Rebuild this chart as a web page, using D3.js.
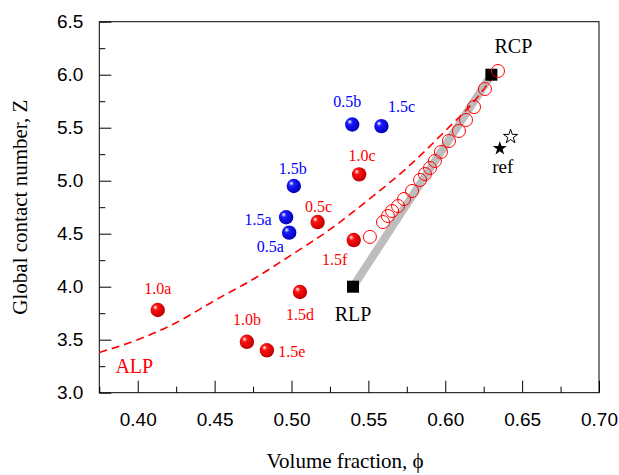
<!DOCTYPE html>
<html>
<head>
<meta charset="utf-8" />
<title>Global contact number vs volume fraction</title>
<style>
    body { margin: 0; background: #fff; }
    .tick text { font-family: "Liberation Sans", Arial, sans-serif; font-size: 19px; fill: #000; }
    .serif { font-family: "Liberation Serif", "Times New Roman", serif; }
</style>
</head>
<body>
<div id="container"></div>
<script src="https://cdn.jsdelivr.net/npm/d3@7"></script>
<script>
    // tick values
    const xMajor = [0.40, 0.45, 0.50, 0.55, 0.60, 0.65, 0.70]
    const xMinor = [0.375, 0.425, 0.475, 0.525, 0.575, 0.625, 0.675]
    const yMajor = [3.0, 3.5, 4.0, 4.5, 5.0, 5.5, 6.0, 6.5]
    const yMinor = [3.25, 3.75, 4.25, 4.75, 5.25, 5.75, 6.25]

    // filled spheres (simulations)
    const simNames = ['1.0a', '1.0b', '1.5e', '1.5d', '0.5c', '1.0c', '1.5f', '0.5a', '1.5a', '1.5b', '0.5b', '1.5c']
    const simPhi = [0.413, 0.471, 0.484, 0.5055, 0.517, 0.544, 0.5405, 0.4985, 0.4965, 0.5015, 0.5395, 0.5585]
    const simZ = [3.78, 3.48, 3.40, 3.95, 4.61, 5.06, 4.44, 4.51, 4.655, 4.95, 5.53, 5.515]
    const simGroup = ['red', 'red', 'red', 'red', 'red', 'red', 'red', 'blue', 'blue', 'blue', 'blue', 'blue']

    // open circles
    const openPhi = [0.551, 0.5595, 0.5627, 0.5654, 0.5693, 0.5732, 0.5784, 0.5836, 0.5868, 0.5901, 0.5933, 0.5972, 0.6024, 0.6089, 0.6135, 0.6187, 0.6258, 0.6343]
    const openZ = [4.47, 4.61, 4.667, 4.714, 4.761, 4.827, 4.903, 5.007, 5.063, 5.12, 5.186, 5.271, 5.375, 5.469, 5.573, 5.695, 5.865, 6.035]

    // ALP curve (dashed)
    const alpPhi = [0.375, 0.40, 0.425, 0.45, 0.475, 0.50, 0.525, 0.55, 0.575, 0.60, 0.62, 0.632]
    const alpZ = [3.38, 3.50, 3.66, 3.87, 4.07, 4.30, 4.54, 4.82, 5.12, 5.47, 5.77, 6.0]

    // reference packings
    const packNames = ['RLP', 'RCP']
    const packPhi = [0.54, 0.63]
    const packZ = [4.0, 6.0]

    // reference stars
    const refPhi = [0.6355, 0.6425]
    const refZ = [5.305, 5.415]

    // label offsets in px, [dx, dy of baseline]
    const simLabelOff = {
        '1.0a': [0, -16], '1.0b': [0, -17], '1.5e': [25, 7], '1.5d': [0, 28],
        '0.5c': [1, -10], '1.0c': [3, -13], '1.5f': [-19, 25], '0.5a': [-19, 19],
        '1.5a': [-28, 8], '1.5b': [-1, -12], '0.5b': [-5, -18], '1.5c': [20, -14]
    }

    const W = 619, H = 475
    const margin = { top: 21.7, right: 20, bottom: 82.3, left: 99.3 }
    const width = W - margin.left - margin.right
    const height = H - margin.top - margin.bottom

    const svg = d3.select('#container').append('svg').attr('width', W).attr('height', H)
    const defs = svg.append('defs')

    function sphereGrad(id, base, dark) {
        const g = defs.append('radialGradient').attr('id', id)
            .attr('cx', '40%').attr('cy', '40%').attr('r', '60%').attr('fx', '32%').attr('fy', '30%')
        g.append('stop').attr('offset', '0%').attr('stop-color', '#fff')
        g.append('stop').attr('offset', '30%').attr('stop-color', base)
        g.append('stop').attr('offset', '100%').attr('stop-color', dark)
    }
    sphereGrad('gred', '#ff1010', '#c00000')
    sphereGrad('gblue', '#1a1aff', '#0000b8')

    const chart = svg.append('g').attr('transform', `translate(${margin.left}, ${margin.top})`)

    const x = d3.scaleLinear().domain([0.375, 0.70]).range([0, width])
    const y = d3.scaleLinear().domain([3.0, 6.5]).range([height, 0])

    // frame
    chart.append('rect').attr('width', width).attr('height', height)
        .attr('fill', 'none').attr('stroke', '#000').attr('stroke-width', 1)

    // axes
    chart.append('g').attr('transform', `translate(0, ${height})`)
        .call(d3.axisBottom(x).tickValues(xMinor).tickSize(-6).tickFormat(''))
    chart.append('g').attr('transform', `translate(0, ${height})`)
        .call(d3.axisBottom(x).tickValues(xMajor).tickSize(-12).tickPadding(20).tickFormat(d3.format('.2f')))
    chart.append('g')
        .call(d3.axisLeft(y).tickValues(yMinor).tickSize(-6).tickFormat(''))
    chart.append('g')
        .call(d3.axisLeft(y).tickValues(yMajor).tickSize(-12).tickPadding(16).tickFormat(d3.format('.1f')))
    chart.selectAll('.domain').remove()

    // gray RLP-RCP line
    chart.append('line')
        .attr('x1', x(packPhi[0])).attr('y1', y(packZ[0]))
        .attr('x2', x(packPhi[1])).attr('y2', y(packZ[1]))
        .attr('stroke', '#bdbdbd').attr('stroke-width', 8)

    // ALP dashed curve
    const alpLine = d3.line().x(d => x(d[0])).y(d => y(d[1])).curve(d3.curveMonotoneX)
    chart.append('path').attr('d', alpLine(alpPhi.map((p, i) => [p, alpZ[i]])))
        .attr('fill', 'none').attr('stroke', '#ff0000').attr('stroke-width', 1.6)
        .attr('stroke-dasharray', '8,5')

    // squares
    chart.selectAll('.pack').data(packPhi).join('rect').attr('class', 'pack')
        .attr('x', d => x(d) - 6).attr('y', (d, i) => y(packZ[i]) - 6)
        .attr('width', 12).attr('height', 12).attr('fill', '#000')

    // open circles
    chart.selectAll('.open').data(openPhi).join('circle').attr('class', 'open')
        .attr('cx', d => x(d)).attr('cy', (d, i) => y(openZ[i])).attr('r', 6.5)
        .attr('fill', 'none').attr('stroke', '#ff0000').attr('stroke-width', 1)

    // spheres
    chart.selectAll('.sim').data(simNames).join('circle').attr('class', 'sim')
        .attr('cx', (d, i) => x(simPhi[i])).attr('cy', (d, i) => y(simZ[i])).attr('r', 7.2)
        .attr('fill', (d, i) => simGroup[i] === 'red' ? 'url(#gred)' : 'url(#gblue)')

    chart.selectAll('.simlab').data(simNames).join('text').attr('class', 'serif simlab')
        .attr('x', (d, i) => x(simPhi[i]) + simLabelOff[d][0])
        .attr('y', (d, i) => y(simZ[i]) + simLabelOff[d][1])
        .attr('text-anchor', 'middle').attr('font-size', 16)
        .attr('fill', (d, i) => simGroup[i] === 'red' ? '#ff0000' : '#0000ff')
        .text(d => d)

    // stars
    const star = d3.symbol(d3.symbolStar).size(62)
    chart.append('path').attr('d', star())
        .attr('transform', `translate(${x(refPhi[0])}, ${y(refZ[0])})`).attr('fill', '#000')
    chart.append('path').attr('d', star())
        .attr('transform', `translate(${x(refPhi[1])}, ${y(refZ[1])})`)
        .attr('fill', '#fff').attr('stroke', '#000').attr('stroke-width', 1)

    // text annotations
    chart.append('text').attr('class', 'serif').attr('font-size', 20).attr('text-anchor', 'middle')
        .attr('x', x(packPhi[1]) + 22).attr('y', y(packZ[1]) - 22).text('RCP')
    chart.append('text').attr('class', 'serif').attr('font-size', 20).attr('text-anchor', 'middle')
        .attr('x', x(packPhi[0])).attr('y', y(packZ[0]) + 34).text('RLP')
    chart.append('text').attr('class', 'serif').attr('font-size', 19).attr('text-anchor', 'middle')
        .attr('x', x(refPhi[0]) + 3).attr('y', y(refZ[0]) + 25).text('ref')
    chart.append('text').attr('class', 'serif').attr('font-size', 20).attr('text-anchor', 'middle')
        .attr('fill', '#ff0000')
        .attr('x', x(alpPhi[0]) + 35).attr('y', y(alpZ[0]) + 21).text('ALP')

    // axis titles
    svg.append('text').attr('class', 'serif').attr('font-size', 21).attr('text-anchor', 'middle')
        .attr('x', margin.left + width / 2 - 4).attr('y', 468).text('Volume fraction, \u03d5')
    svg.append('text').attr('class', 'serif').attr('font-size', 21).attr('text-anchor', 'middle')
        .attr('transform', `translate(27, ${margin.top + height / 2}) rotate(-90)`)
        .text('Global contact number, Z')
</script>
</body>
</html>
